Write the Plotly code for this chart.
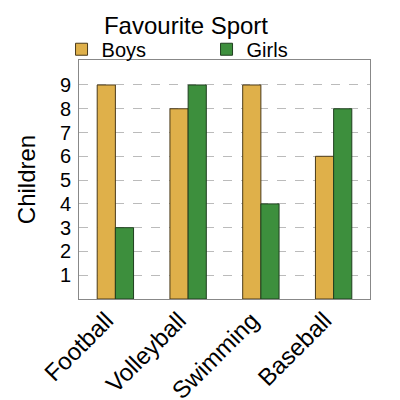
import plotly.graph_objects as go

sports = ["Football", "Volleyball", "Swimming", "Baseball"]
boys = [9, 8, 9, 6]
girls = [3, 9, 4, 8]
yticks = [1, 2, 3, 4, 5, 6, 7, 8, 9]

fig = go.Figure()
fig.add_trace(go.Bar(name="Boys", x=sports, y=boys,
                     marker=dict(color="#DFB04A", line=dict(color="#4a3a1a", width=1))))
fig.add_trace(go.Bar(name="Girls", x=sports, y=girls,
                     marker=dict(color="#3D8F3D", line=dict(color="#1f3f1f", width=1))))

fig.update_layout(
    width=400, height=400,
    margin=dict(l=71, r=38, t=52, b=109, autoexpand=False),
    paper_bgcolor="white", plot_bgcolor="white",
    font=dict(family="Liberation Sans, Arial, sans-serif", color="black"),
    title=dict(text="Favourite Sport", x=0.445, xanchor="center", y=0.957, yanchor="middle",
               font=dict(size=24)),
    barmode="group", bargap=0.5, bargroupgap=0,
    showlegend=True,
    legend=dict(orientation="h", x=-0.06, y=1.045, xanchor="left", yanchor="middle",
                font=dict(size=20), entrywidth=100, itemwidth=30,
                bgcolor="rgba(0,0,0,0)", traceorder="normal"),
    xaxis=dict(tickangle=-45, tickfont=dict(size=24), showline=True, linecolor="#888",
               mirror=True, showgrid=False, ticks="", automargin=False,
               ticklabelshift=-9, ticklabelstandoff=-3),
    yaxis=dict(range=[0, 10.05], tickvals=yticks, tickfont=dict(size=20),
               ticklabelstandoff=3, automargin=False,
               title=dict(text="Children", font=dict(size=24), standoff=17),
               showline=True, linecolor="#888", mirror=True,
               showgrid=True, gridcolor="#bbbbbb", griddash="dash", gridwidth=1,
               zeroline=False, ticks=""),
)
fig.write_html("out.html")
